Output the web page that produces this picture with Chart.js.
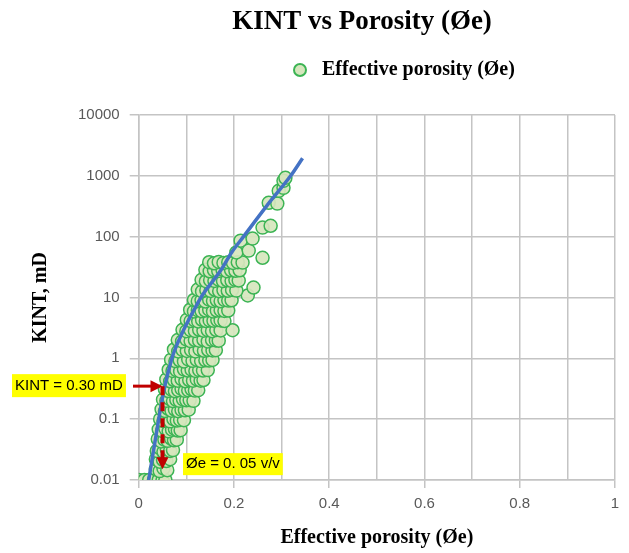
<!DOCTYPE html>
<html>
<head>
<meta charset="utf-8">
<script src="https://cdn.jsdelivr.net/npm/chart.js@4.4.1/dist/chart.umd.min.js"></script>
<style>
  body { margin: 0; background: #fff; }
  #wrap { width: 629px; height: 553px; }
</style>
</head>
<body>
<div id="wrap"><canvas id="myChart" width="629" height="553"></canvas></div>
<script>
// porosity (v/v) and KINT (mD), bottom to top
const porosityData = [
  0, 0.012, 0.022, 0.032, 0.042, 0.05, 0.056,
  0.036, 0.044, 0.052, 0.06,
  0.036, 0.044, 0.051, 0.058, 0.066,
  0.038, 0.045, 0.052, 0.059, 0.066, 0.072,
  0.04, 0.047, 0.054, 0.061, 0.068, 0.074, 0.08,
  0.042, 0.049, 0.056, 0.063, 0.07, 0.076, 0.082, 0.088,
  0.045, 0.052, 0.059, 0.066, 0.073, 0.08, 0.087, 0.095,
  0.048, 0.055, 0.062, 0.069, 0.076, 0.083, 0.09, 0.097, 0.105,
  0.051, 0.058, 0.065, 0.072, 0.079, 0.086, 0.093, 0.1, 0.107, 0.115,
  0.055, 0.062, 0.069, 0.076, 0.083, 0.09, 0.097, 0.104, 0.111, 0.118, 0.125,
  0.058, 0.066, 0.074, 0.082, 0.09, 0.098, 0.106, 0.114, 0.122, 0.13, 0.136,
  0.063, 0.071, 0.079, 0.087, 0.095, 0.103, 0.111, 0.119, 0.127, 0.135, 0.145,
  0.068, 0.077, 0.086, 0.095, 0.104, 0.113, 0.122, 0.131, 0.14, 0.148, 0.155,
  0.074, 0.083, 0.092, 0.101, 0.11, 0.119, 0.128, 0.137, 0.146, 0.155, 0.162,
  0.082, 0.091, 0.1, 0.109, 0.118, 0.127, 0.136, 0.145, 0.154, 0.162, 0.168,
  0.092, 0.1, 0.109, 0.118, 0.127, 0.136, 0.145, 0.154, 0.163, 0.172, 0.197,
  0.101, 0.109, 0.117, 0.125, 0.133, 0.141, 0.149, 0.157, 0.165, 0.172, 0.18,
  0.108, 0.116, 0.124, 0.132, 0.14, 0.148, 0.156, 0.164, 0.172, 0.18, 0.188,
  0.116, 0.124, 0.132, 0.14, 0.148, 0.156, 0.164, 0.172, 0.18, 0.188, 0.195, 0.229,
  0.124, 0.133, 0.142, 0.151, 0.16, 0.169, 0.178, 0.187, 0.196, 0.205, 0.241,
  0.132, 0.141, 0.15, 0.159, 0.168, 0.177, 0.186, 0.195, 0.203, 0.21,
  0.14, 0.149, 0.158, 0.167, 0.176, 0.185, 0.194, 0.203, 0.212,
  0.148, 0.158, 0.168, 0.178, 0.188, 0.198, 0.208, 0.218,
  0.205, 0.214, 0.231, 0.239, 0.26, 0.26, 0.277, 0.273, 0.291, 0.294, 0.304, 0.304, 0.308
];
const kintData = [
  0.01, 0.01, 0.01, 0.01, 0.01, 0.01, 0.01,
  0.015, 0.014, 0.0155, 0.0145,
  0.022, 0.02, 0.0215, 0.0205, 0.022,
  0.03, 0.033, 0.029, 0.032, 0.03, 0.031,
  0.047, 0.043, 0.046, 0.044, 0.048, 0.045, 0.046,
  0.068, 0.064, 0.07, 0.063, 0.067, 0.069, 0.065, 0.066,
  0.1, 0.093, 0.098, 0.092, 0.1, 0.095, 0.097, 0.096,
  0.145, 0.136, 0.148, 0.138, 0.144, 0.135, 0.142, 0.14, 0.143,
  0.21, 0.2, 0.215, 0.198, 0.208, 0.2, 0.212, 0.204, 0.206, 0.2,
  0.31, 0.29, 0.305, 0.288, 0.3, 0.315, 0.292, 0.3, 0.31, 0.295, 0.3,
  0.45, 0.42, 0.44, 0.43, 0.455, 0.42, 0.44, 0.43, 0.45, 0.43, 0.44,
  0.65, 0.62, 0.64, 0.61, 0.66, 0.63, 0.65, 0.62, 0.64, 0.63, 0.64,
  0.95, 0.9, 0.93, 0.89, 0.96, 0.91, 0.94, 0.9, 0.93, 0.92, 0.94,
  1.4, 1.3, 1.38, 1.32, 1.36, 1.3, 1.4, 1.33, 1.37, 1.35, 1.36,
  2, 1.9, 2.05, 1.92, 2, 1.95, 2.02, 1.9, 2, 1.97, 1.95,
  2.95, 2.8, 2.9, 2.82, 2.95, 2.85, 2.9, 2.8, 2.92, 2.88, 2.9,
  4.3, 4.1, 4.25, 4.05, 4.3, 4.1, 4.2, 4.15, 4.25, 4.2, 4.1,
  6.3, 5.9, 6.2, 5.95, 6.1, 6.3, 5.9, 6.1, 6.2, 6, 6.1,
  9.1, 8.7, 9, 8.6, 9.2, 8.8, 9, 8.7, 9.1, 8.9, 9, 10.8,
  13.5, 12.6, 13.2, 12.8, 13.4, 12.7, 13.1, 12.9, 13.3, 13, 14.6,
  19.5, 18.5, 19.3, 18.7, 19.6, 18.6, 19.2, 18.8, 19.4, 19,
  28.5, 27, 28.2, 27.2, 28.6, 27.1, 28, 27.5, 28,
  38, 36.5, 38.5, 37, 38, 37, 38, 37.5,
  55, 86, 59, 93, 45, 141, 151, 361, 350, 567, 635, 828, 927
];

// blue trend curve
const curveX = [0.021, 0.031, 0.042, 0.053, 0.063, 0.073, 0.094, 0.119, 0.136, 0.172, 0.195, 0.22, 0.27, 0.319, 0.344];
const curveY = [0.01, 0.03, 0.1, 0.3, 0.64, 1.2, 2.9, 6.9, 11.6, 27.7, 55, 100, 330, 1000, 1950];

const yTicks = [0.01, 0.1, 1, 10, 100, 1000, 10000];

// cut-off annotation
const cutPorosity = 0.05;
const cutKint = 0.3;

const scatterPoints = porosityData.map((x, i) => ({ x: x, y: kintData[i] }));
const curvePoints = curveX.map((x, i) => ({ x: x, y: curveY[i] }));

const serif = '"Liberation Serif", "Times New Roman", serif';
const sans = '"Liberation Sans", Arial, sans-serif';

// title, legend and red arrows drawn on top
const extras = {
  id: 'extras',
  afterDraw(chart) {
    const ctx = chart.ctx;
    const xs = chart.scales.x, ys = chart.scales.y;
    ctx.save();
    // title
    ctx.fillStyle = '#000';
    ctx.font = 'bold 27px ' + serif;
    ctx.textAlign = 'center';
    ctx.textBaseline = 'middle';
    ctx.fillText('KINT vs Porosity (Øe)', 362, 22);
    // legend
    ctx.beginPath();
    ctx.arc(300, 70, 6, 0, Math.PI * 2);
    ctx.fillStyle = '#d6e6bd';
    ctx.fill();
    ctx.lineWidth = 2;
    ctx.strokeStyle = '#3cb454';
    ctx.stroke();
    ctx.fillStyle = '#000';
    ctx.font = 'bold 20px ' + serif;
    ctx.textAlign = 'left';
    ctx.fillText('Effective porosity (Øe)', 322, 70);

    const px = xs.getPixelForValue(cutPorosity);
    const py = ys.getPixelForValue(cutKint) - 4;
    const red = '#c00000';
    // horizontal arrow
    ctx.strokeStyle = red;
    ctx.fillStyle = red;
    ctx.lineWidth = 3;
    ctx.beginPath();
    ctx.moveTo(133, py);
    ctx.lineTo(px - 10, py);
    ctx.stroke();
    ctx.beginPath();
    ctx.moveTo(px, py);
    ctx.lineTo(px - 12, py - 6);
    ctx.lineTo(px - 12, py + 6);
    ctx.closePath();
    ctx.fill();
    // dashed vertical
    ctx.lineWidth = 4;
    ctx.setLineDash([9, 7]);
    ctx.beginPath();
    ctx.moveTo(px, py);
    ctx.lineTo(px, py + 72);
    ctx.stroke();
    ctx.setLineDash([]);
    ctx.beginPath();
    ctx.moveTo(px - 6, py + 71);
    ctx.lineTo(px + 6, py + 71);
    ctx.lineTo(px, py + 83);
    ctx.closePath();
    ctx.fill();
    // yellow labels
    ctx.font = '15px ' + sans;
    ctx.textBaseline = 'middle';
    let t = 'KINT = 0.30 mD';
    let w = ctx.measureText(t).width;
    ctx.fillStyle = '#ffff00';
    ctx.fillRect(12, py - 12, w + 6, 23);
    ctx.fillStyle = '#000';
    ctx.fillText(t, 15, py);
    t = 'Øe = 0. 05 v/v';
    w = ctx.measureText(t).width;
    ctx.fillStyle = '#ffff00';
    ctx.fillRect(183, py + 67, w + 6, 22);
    ctx.fillStyle = '#000';
    ctx.fillText(t, 186, py + 78);
    ctx.restore();
  }
};

const ctx = document.getElementById('myChart').getContext('2d');
const chart = new Chart(ctx, {
  type: 'scatter',
  data: {
    datasets: [
      {
        type: 'line',
        label: 'trend',
        data: curvePoints,
        borderColor: '#4472c4',
        borderWidth: 3.5,
        pointRadius: 0,
        fill: false,
        tension: 0.4,
        cubicInterpolationMode: 'monotone',
        order: 0
      },
      {
        label: 'Effective porosity (Øe)',
        data: scatterPoints,
        backgroundColor: 'rgba(214,230,189,0.92)',
        borderColor: '#3cb454',
        borderWidth: 1.5,
        pointRadius: 6.5,
        order: 1
      }
    ]
  },
  plugins: [extras],
  options: {
    responsive: false,
    animation: false,
    layout: { padding: { top: 115, right: 14, left: 29, bottom: 3 } },
    plugins: {
      legend: { display: false },
      title: { display: false },
      tooltip: { enabled: false }
    },
    scales: {
      x: {
        type: 'linear',
        min: 0,
        max: 1,
        ticks: {
          stepSize: 0.1,
          color: '#595959',
          font: { family: sans, size: 15 },
          padding: 7,
          maxRotation: 0,
          autoSkip: false,
          callback: (v, i) => (i % 2 === 0 ? String(Math.round(v * 10) / 10) : '')
        },
        grid: {
          color: '#c4c4c4',
          lineWidth: 1.5,
          tickLength: 8,
          tickColor: (c) => (c.index % 2 === 0 ? '#c4c4c4' : 'rgba(0,0,0,0)')
        },
        border: { color: '#c4c4c4', width: 1.5 },
        title: {
          display: true,
          text: 'Effective porosity (Øe)',
          color: '#000',
          font: { family: serif, size: 20, weight: 'bold' },
          padding: { top: 6, bottom: 0 }
        }
      },
      y: {
        type: 'logarithmic',
        min: 0.01,
        max: 10000,
        afterBuildTicks: (axis) => { axis.ticks = yTicks.map(v => ({ value: v })); },
        ticks: {
          color: '#595959',
          font: { family: sans, size: 15 },
          padding: 10,
          callback: (v) => String(v)
        },
        grid: { color: '#c4c4c4', lineWidth: 1.5, tickLength: 9 },
        border: { color: '#c4c4c4', width: 1.5 },
        title: {
          display: true,
          text: 'KINT, mD',
          color: '#000',
          font: { family: serif, size: 20, weight: 'bold' },
          padding: { top: 0, bottom: 15 }
        }
      }
    }
  }
});
</script>
</body>
</html>
